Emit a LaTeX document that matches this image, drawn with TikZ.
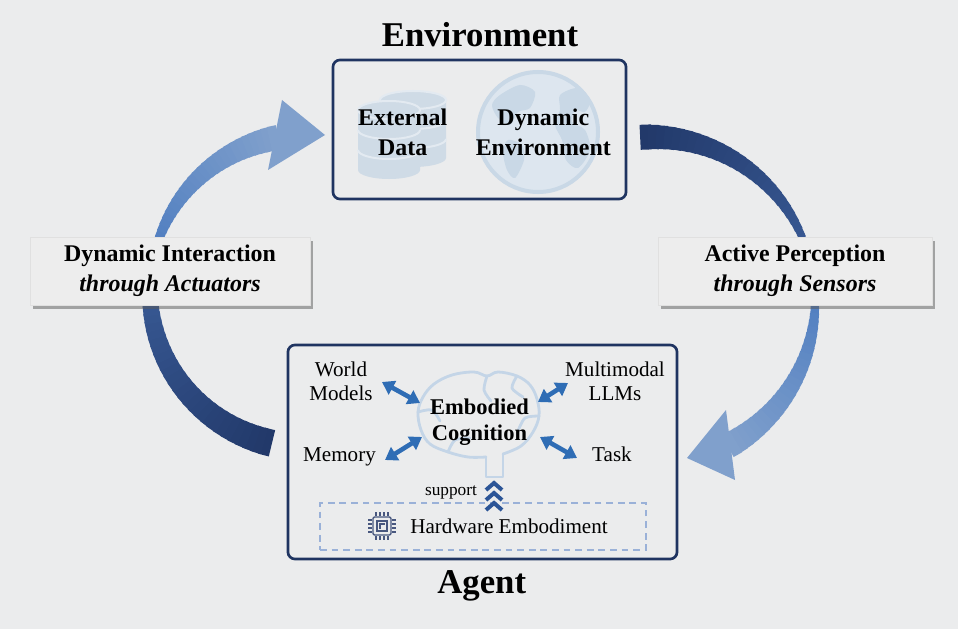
\documentclass[tikz,border=0pt]{standalone}
\usepackage{fontspec}
\setmainfont{Liberation Serif}
\usetikzlibrary{arrows.meta,shadows,positioning}

\definecolor{bgcol}{HTML}{EBECED}
\definecolor{navy}{HTML}{1F3461}
\definecolor{arcdark}{HTML}{22396A}
\definecolor{arcmidA}{HTML}{3A5C98}
\definecolor{arcmidB}{HTML}{4A7ABF}
\definecolor{arclight}{HTML}{80A0CC}
\definecolor{linkblue}{HTML}{2F6DB5}
\definecolor{chevblue}{HTML}{2C5597}
\definecolor{dashblue}{HTML}{9AB1D8}
\definecolor{iconblue}{HTML}{C4D5E7}
\definecolor{dbfill}{HTML}{CFDBE6}
\definecolor{dbline}{HTML}{E3EAF1}
\definecolor{globefill}{HTML}{DDE6EF}
\definecolor{globeland}{HTML}{C9D8E6}
\definecolor{chipcol}{HTML}{48577F}
\definecolor{labelfill}{HTML}{EDEDED}

\tikzset{
  boxframe/.style={draw=navy, line width=1.9pt, rounded corners=5pt, fill=bgcol, inner sep=0pt},
  labelbox/.style={draw=black!12, fill=labelfill, inner sep=0pt, minimum height=1.7cm, align=center,
    drop shadow={shadow xshift=0.07cm, shadow yshift=-0.1cm, fill=black!65, opacity=0.5},
    font=\fontsize{17}{21.3}\selectfont\bfseries},
  titletext/.style={font=\fontsize{24.7}{29}\selectfont\bfseries, inner sep=0pt},
  envtext/.style={font=\fontsize{17}{21.3}\selectfont\bfseries, align=center, inner sep=0pt},
  parttext/.style={font=\fontsize{15}{17.1}\selectfont, align=center, inner sep=0pt},
  dblarrow/.style={draw=linkblue, line width=0.115cm, {Triangle[length=0.3cm,width=0.38cm]}-{Triangle[length=0.3cm,width=0.38cm]}},
  chevron/.style={draw=chevblue, line width=0.1cm},
  iconline/.style={draw=iconblue, line width=0.07cm, line cap=round, line join=round},
  chipline/.style={draw=chipcol, line width=0.035cm},
}

% one tapering, shaded piece of a flow arc
% #1 centre, #2 radius (cm), #3 #4 angles, #5 #6 widths (px), #7 #8 colours
\newcommand{\flowpart}[8]{%
  \foreach \i in {0,...,29} {%
    \pgfmathsetmacro\flowang{#3+(#4-#3)*\i/30}%
    \pgfmathsetmacro\flowwd{0.025*(#5+(#6-#5)*\i/29)}%
    \pgfmathtruncatemacro\flowpct{100*\i/29}%
    \draw[line width=\flowwd cm, draw=#8!\flowpct!#7]
      ([shift={(#1)}]-\flowang:#2cm) arc[start angle=-\flowang, delta angle={-1.4*(#4-#3)/30}, radius=#2cm];
  }%
}

\begin{document}
\begin{tikzpicture}[x=0.025cm,y=-0.025cm]
\useasboundingbox (0,0) rectangle (958,629);
\fill[bgcol] (0,0) rectangle (958,629);

% Drawing arc from agent to environment
\flowpart{306,291}{3.9}{102.6}{188}{27}{14}{arcdark}{arcmidA}
\flowpart{306,291}{3.9}{188}{258.8}{6}{25}{arcmidB}{arclight}
\fill[arclight] (325,135) -- (282,100) -- (268,170) -- cycle;

% Drawing arc from environment to agent
\flowpart{651,301}{4.1}{266.2}{350}{25}{4}{arcdark}{arcmidA}
\flowpart{651,301}{4.1}{350}{421.2}{5}{25}{arcmidB}{arclight}
\fill[arclight] (687,458) -- (726,410) -- (735,480) -- cycle;

% Labels on the arcs
\node[labelbox, minimum width=7cm] (actlabel) at (170,271) {Dynamic Interaction\\\textit{through Actuators}};
\node[labelbox, minimum width=6.85cm] (perclabel) at (795,271) {Active Perception\\\textit{through Sensors}};

% Environment
\node[titletext, anchor=base] (envtitle) at (480,46.7) {Environment};
\node[boxframe, minimum width=7.325cm, minimum height=3.475cm] (envbox) at (479.5,129.5) {};

% Drawing database icon
\fill[dbfill] (380,100) -- (380,158) arc[start angle=180, end angle=360, x radius=0.825cm, y radius=0.225cm] -- (446,100) -- cycle;
\fill[dbfill] (413,100) ellipse [x radius=0.825cm, y radius=0.225cm];
\draw[dbline, line width=0.05cm] (413,100) ellipse [x radius=0.825cm, y radius=0.225cm];
\foreach \y in {120,139}
  \draw[dbline, line width=0.05cm] (380,\y) arc[start angle=180, end angle=360, x radius=0.825cm, y radius=0.225cm];
\fill[dbfill] (358,110) -- (358,170) arc[start angle=180, end angle=360, x radius=0.775cm, y radius=0.225cm] -- (420,110) -- cycle;
\fill[dbfill] (389,110) ellipse [x radius=0.775cm, y radius=0.225cm];
\draw[dbline, line width=0.05cm] (389,110) ellipse [x radius=0.775cm, y radius=0.225cm];
\foreach \y in {130,150}
  \draw[dbline, line width=0.05cm] (358,\y) arc[start angle=180, end angle=360, x radius=0.775cm, y radius=0.225cm];

% Drawing globe icon
\draw[fill=globefill, draw=globeland, line width=0.1cm] (538,132) circle (60);
\fill[globeland] plot[smooth cycle] coordinates {(500,95) (520,85) (535,92) (530,108) (518,112) (510,125) (498,118) (492,105)};
\fill[globeland] plot[smooth cycle] coordinates {(508,140) (522,145) (524,160) (515,178) (507,170) (503,152)};
\fill[globeland] plot[smooth cycle] coordinates {(560,95) (578,88) (590,100) (585,112) (575,110) (572,122) (585,130) (590,150) (578,168) (566,160) (562,140) (555,125) (560,110)};

\node[envtext] (extdata) at (402.7,132) {External\\Data};
\node[envtext] (dynenv) at (543.3,132) {Dynamic\\Environment};

% Agent
\node[boxframe, minimum width=9.725cm, minimum height=5.35cm] (agentbox) at (482.5,452) {};
\node[titletext, anchor=base] (agenttitle) at (481.7,593) {Agent};

% Drawing brain icon
\draw[iconline] plot[smooth, tension=0.6] coordinates {(486,457) (468,457) (448,452) (430,444) (421,430) (418,412) (423,397) (434,384) (452,375) (474,372) (487,376) (498,372) (517,376) (530,385) (537,399) (539,416) (533,432) (521,446) (503,454)};
\draw[iconline] (503,454) -- (503,477) -- (486,477) -- (486,457);
\draw[iconline] plot[smooth] coordinates {(487,376) (484,390) (491,401)};
\draw[iconline] plot[smooth] coordinates {(418,412) (432,410) (440,421)};
\draw[iconline] plot[smooth] coordinates {(517,376) (512,388) (523,397)};
\draw[iconline] plot[smooth] coordinates {(539,416) (525,418) (518,431)};
\draw[iconline] plot[smooth] coordinates {(448,452) (455,440) (470,438)};

\node[font=\fontsize{16}{18.5}\selectfont\bfseries, align=center, inner sep=0pt] (cog) at (479.5,422) {Embodied\\Cognition};
\node[parttext] (wm) at (341,381) {World\\Models};
\node[parttext] (mllm) at (615,381) {Multimodal\\LLMs};
\node[parttext, anchor=base] (mem) at (339.5,461) {Memory};
\node[parttext, anchor=base] (task) at (612,461) {Task};

% Drawing links to embodied cognition
\coordinate (wmA) at (382,382);   \coordinate (wmB) at (420,403);
\coordinate (mllmA) at (538,402); \coordinate (mllmB) at (568,383);
\coordinate (memA) at (385,460);  \coordinate (memB) at (422,437);
\coordinate (taskA) at (540,437); \coordinate (taskB) at (577,458);
\draw[dblarrow] (wmA) -- (wmB);
\draw[dblarrow] (mllmA) -- (mllmB);
\draw[dblarrow] (memA) -- (memB);
\draw[dblarrow] (taskA) -- (taskB);

% Hardware embodiment and support
\node[draw=dashblue, line width=0.05cm, dash pattern=on 0.17cm off 0.12cm, minimum width=8.15cm, minimum height=1.175cm, inner sep=0pt] (hwbox) at (483,526.5) {};
\node[parttext, anchor=base] (hw) at (509,533.3) {Hardware Embodiment};
\node[font=\fontsize{12.3}{14}\selectfont, anchor=base, inner sep=0pt] (support) at (451,495) {support};
\foreach \y in {481,491,501}
  \draw[chevron] (486,\y+9) -- (494,\y+2) -- (502,\y+9);

% Drawing chip icon
\draw[chipline, rounded corners=1pt] (373,517) rectangle (391,535);
\draw[chipline] (377,521) rectangle (387,531);
\draw[chipline] (380,529) -- (380,524) -- (385,524);
\foreach \t in {-6,-2,2,6} {
  \draw[chipline] (382+\t,512) -- (382+\t,516);
  \draw[chipline] (382+\t,536) -- (382+\t,540);
  \draw[chipline] (368,526+\t) -- (372,526+\t);
  \draw[chipline] (392,526+\t) -- (396,526+\t);
}
\end{tikzpicture}
\end{document}
